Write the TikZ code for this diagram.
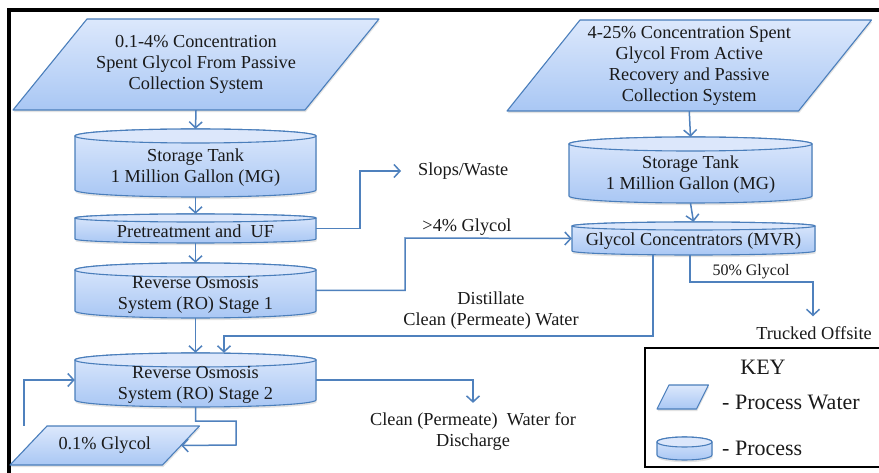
\documentclass[tikz,border=0pt]{standalone}
\usepackage{fontspec}
\setmainfont{Liberation Serif}
\usetikzlibrary{arrows.meta,shadows}

\definecolor{flowblue}{HTML}{4F81BD}
\definecolor{rimblue}{HTML}{4A7EBB}
\definecolor{fillhigh}{HTML}{DCE8FC}
\definecolor{filllow}{HTML}{A9C7F4}
\definecolor{lidfill}{HTML}{DCE7FB}
\definecolor{ink}{HTML}{1A1A1A}

\tikzset{
  x=1pt, y=1pt,
  txt/.style={font=\fontsize{18.3}{21}\selectfont, text=ink, align=center, inner sep=0pt},
  smalltxt/.style={font=\fontsize{16}{18}\selectfont, text=ink, align=center, inner sep=0pt},
  keytxt/.style={font=\fontsize{22}{24}\selectfont, text=ink, inner sep=0pt},
  anchorbox/.style={rectangle, inner sep=0pt, draw=none},
  solid fill/.style={top color=fillhigh, bottom color=filllow, draw=rimblue, line width=1.1pt,
    line join=round, drop shadow={opacity=0.22, shadow xshift=0.6pt, shadow yshift=-2.2pt}},
  lid/.style={fill=lidfill, draw=rimblue, line width=1.1pt},
  flow/.style={draw=flowblue, line width=1.5pt, -{Straight Barb[length=6pt,width=13pt]}},
  frame/.style={draw=black, line width=4pt},
  keyframe/.style={draw=black, line width=2pt},
}

% process vessel: name, centre x, centre y, width, height, lid half-height, text
\newcommand\vessel[7]{%
  \path[solid fill] (#2-#4/2,#3+#5/2-#6) -- (#2-#4/2,#3-#5/2+#6)
    arc[start angle=180,end angle=360,x radius=#4/2,y radius=#6]
    -- (#2+#4/2,#3+#5/2-#6)
    arc[start angle=0,end angle=180,x radius=#4/2,y radius=#6] -- cycle;
  \path[lid] (#2,#3+#5/2-#6) ellipse[x radius=#4/2,y radius=#6];
  \node[anchorbox, minimum width=#4, minimum height=#5] (#1) at (#2,#3) {};
  \node[txt] (#1-label) at (#2,#3-0.7*#6) {#7};
}

% process-water input: name, centre x, centre y, mid width, height, half skew, text
\newcommand\feed[7]{%
  \path[solid fill] (#2-#4/2-#6,#3-#5/2) -- (#2+#4/2-#6,#3-#5/2)
    -- (#2+#4/2+#6,#3+#5/2) -- (#2-#4/2+#6,#3+#5/2) -- cycle;
  \node[anchorbox, minimum width=#4, minimum height=#5] (#1) at (#2,#3) {};
  \node[txt] (#1-label) at (#2,#3) {#7};
}

\begin{document}
\begin{tikzpicture}
\useasboundingbox (0,0) rectangle (879,472);
\clip (0,0) rectangle (879,472);
\fill[white] (0,0) rectangle (879,472);

% outer frame
\draw[frame] (9,-10) -- (9,461.5) -- (890,461.5);

% left train
\feed{srcA}{196}{407.5}{292}{91}{37}{0.1-4\% Concentration\\Spent Glycol From Passive\\Collection System}
\vessel{tankA}{195.5}{309}{241}{68}{7}{Storage Tank\\1 Million Gallon (MG)}
\vessel{pretreat}{195.5}{243.5}{241}{29}{4}{Pretreatment and\ \ UF}
\vessel{roOne}{195.5}{181.5}{241}{55}{7}{Reverse Osmosis\\System (RO) Stage 1}
\vessel{roTwo}{195.5}{92}{241}{54}{7}{Reverse Osmosis\\System (RO) Stage 2}
\feed{lowglycol}{104.75}{26.5}{152.5}{39}{18.5}{0.1\% Glycol}

% right train
\feed{srcB}{689.25}{406.5}{291.5}{91}{36.5}{4-25\% Concentration Spent\\Glycol From Active\\Recovery and Passive\\Collection System}
\vessel{tankB}{690.5}{302}{243}{66}{7}{Storage Tank\\1 Million Gallon (MG)}
\vessel{mvr}{693.5}{233.5}{243}{33}{4}{Glycol Concentrators (MVR)}

% free-standing labels
\node[txt, anchor=west] (slops) at (418,301) {Slops/Waste};
\node[txt] (richlbl) at (467,245) {>4\% Glycol};
\node[txt] (distlbl) at (491,161.5) {Distillate\\Clean (Permeate) Water};
\node[smalltxt] (fiftylbl) at (751,200) {50\% Glycol};
\node[txt] (trucked) at (814,139) {Trucked Offsite};
\node[txt] (discharge) at (473,40) {Clean (Permeate)\ \ Water for\\Discharge};

% bend points
\coordinate (slopsbend) at (360,301);
\coordinate (richbend) at (405,234);
\coordinate (distbend) at (653,136);
\coordinate (distdrop) at (224,136);
\coordinate (fiftybend) at (690,190);
\coordinate (truckbend) at (813,190);
\coordinate (dischbend) at (473,92);
\coordinate (rejbend) at (236,51);
\coordinate (rejdrop) at (236,27);
\coordinate (recyclebend) at (24,92);

% main flow
\draw[flow] (srcA.south) -- (tankA.north);
\draw[flow] (tankA.south) -- (pretreat.north);
\draw[flow] (pretreat.south) -- (roOne.north);
\draw[flow] (roOne.south) -- (roTwo.north);
\draw[flow] (srcB.south) -- (tankB.north);
\draw[flow] (tankB.south) -- (mvr.north);

% side streams
\draw[flow, shorten >=17pt] (pretreat.east) -| (slopsbend) -- (slops.west);
\draw[flow] (roOne.east) -| (richbend) -- (mvr.west);
\draw[flow] (distbend |- mvr.south) -- (distbend) -- (distdrop) -- (roTwo.north -| distdrop);
\draw[flow] (fiftybend |- mvr.south) -- (fiftybend) -- (truckbend) -- ([yshift=10pt]trucked.north -| truckbend);
\draw[flow] (roTwo.east) -- (dischbend) -- ([yshift=10pt]discharge.north -| dischbend);
\draw[flow] (roTwo.south) -- (roTwo.south |- rejbend) -- (rejbend) -- (rejdrop) -- (lowglycol.east);
\draw[flow] (recyclebend |- lowglycol.north) -- (recyclebend) -- (roTwo.west);

% key
\draw[keyframe] (645,5) rectangle (900,124);
\node[keytxt] (keytitle) at (763,105) {KEY};
\feed{keyfeed}{682.75}{75}{39.5}{24}{6}{}
\vessel{keyvessel}{684.5}{23.5}{55}{23}{5}{}
\node[keytxt, anchor=west] (keywater) at (722,70) {- Process Water};
\node[keytxt, anchor=west] (keyproc) at (722,24) {- Process};
\end{tikzpicture}
\end{document}
